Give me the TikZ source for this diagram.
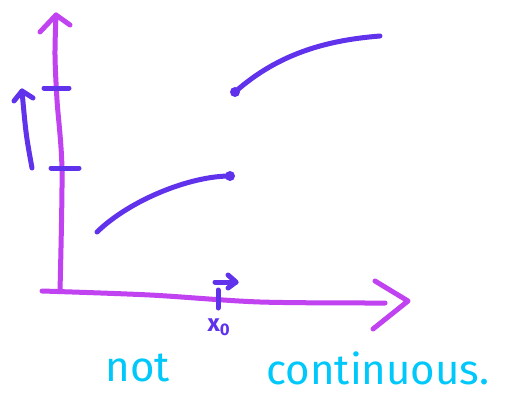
\documentclass[tikz,border=0pt]{standalone}
\usepackage{xcolor}
\definecolor{AxisViolet}{RGB}{192,66,240}
\definecolor{InkBlue}   {RGB}{96,50,236}
\definecolor{NoteCyan}  {RGB}{0,200,250}
\usepackage{fontspec}
\setmainfont{Fira Sans}
\usepackage{tikz}
\usetikzlibrary{positioning}

\begin{document}
\begin{tikzpicture}[
  x=1pt, y=-1pt,
  axis/.style={
    draw=AxisViolet, line width=5pt,
    line cap=round, line join=round},
  ink/.style={
    draw=InkBlue, line width=5pt,
    line cap=round, line join=round},
  endpt/.style={
    circle, fill=InkBlue,
    inner sep=0pt, minimum size=10pt},
  mark label/.style={
    text=InkBlue, inner sep=0pt,
    font=\fontsize{24}{24}\selectfont\bfseries},
  note/.style={
    text=NoteCyan, inner sep=0pt,
    font=\fontsize{42}{42}\selectfont}
]
\useasboundingbox (0,0) rectangle (510,396);

% axes
\coordinate (origin) at (42,291);
\coordinate (ytop) at (56,15);
\coordinate (xend) at (385,303);
\draw[axis] plot[smooth] coordinates
  {(60,291) (62,170) (57,100) (55,55) (ytop)};
\draw[axis] (40,32) -- (ytop) -- (70,25);
\draw[axis] plot[smooth] coordinates
  {(origin) (150,295) (260,302) (xend)};
\coordinate (xtip) at (408,301);
\draw[axis] (375,281) -- (xtip) -- (373,329);

% ticks on the y axis
\coordinate (t1l) at (44,88);
\coordinate (t1r) at (69,88);
\coordinate (t2l) at (51,168);
\coordinate (t2r) at (79,168);
\draw[ink] (t1l) -- (t1r);
\draw[ink] (t2l) -- (t2r);

% jump arrow
\coordinate (jfoot) at (32,168);
\coordinate (jtip) at (22,91);
\draw[ink] (jfoot) .. controls (26,135) .. (jtip);
\draw[ink] (14,101) -- (jtip) -- (33,98);

% the two pieces
\coordinate (lstart) at (97,232);
\node[endpt] (lend) at (230,176) {};
\node[endpt] (ustart) at (235,92) {};
\coordinate (uend) at (380,36);
\draw[ink] (lstart) .. controls (130,200) and (190,176) .. (lend.center);
\draw[ink] (ustart.center) .. controls (280,52) and (330,40) .. (uend);

% x0
\coordinate (xtop) at (218,290);
\coordinate (xbot) at (218,308);
\draw[ink] (xtop) -- (xbot);
\coordinate (astart) at (215,282);
\coordinate (atip) at (236,282);
\draw[ink] (astart) -- (atip);
\draw[ink] (228,275) -- (atip) -- (228,288);
\node[mark label] (xzero) at (219,327) {x\textsubscript{0}};

\node[note] (notlab) at (138,368) {not};
\node[note] (contlab) at (378,368) {continuous.};

\end{tikzpicture}
\end{document}
